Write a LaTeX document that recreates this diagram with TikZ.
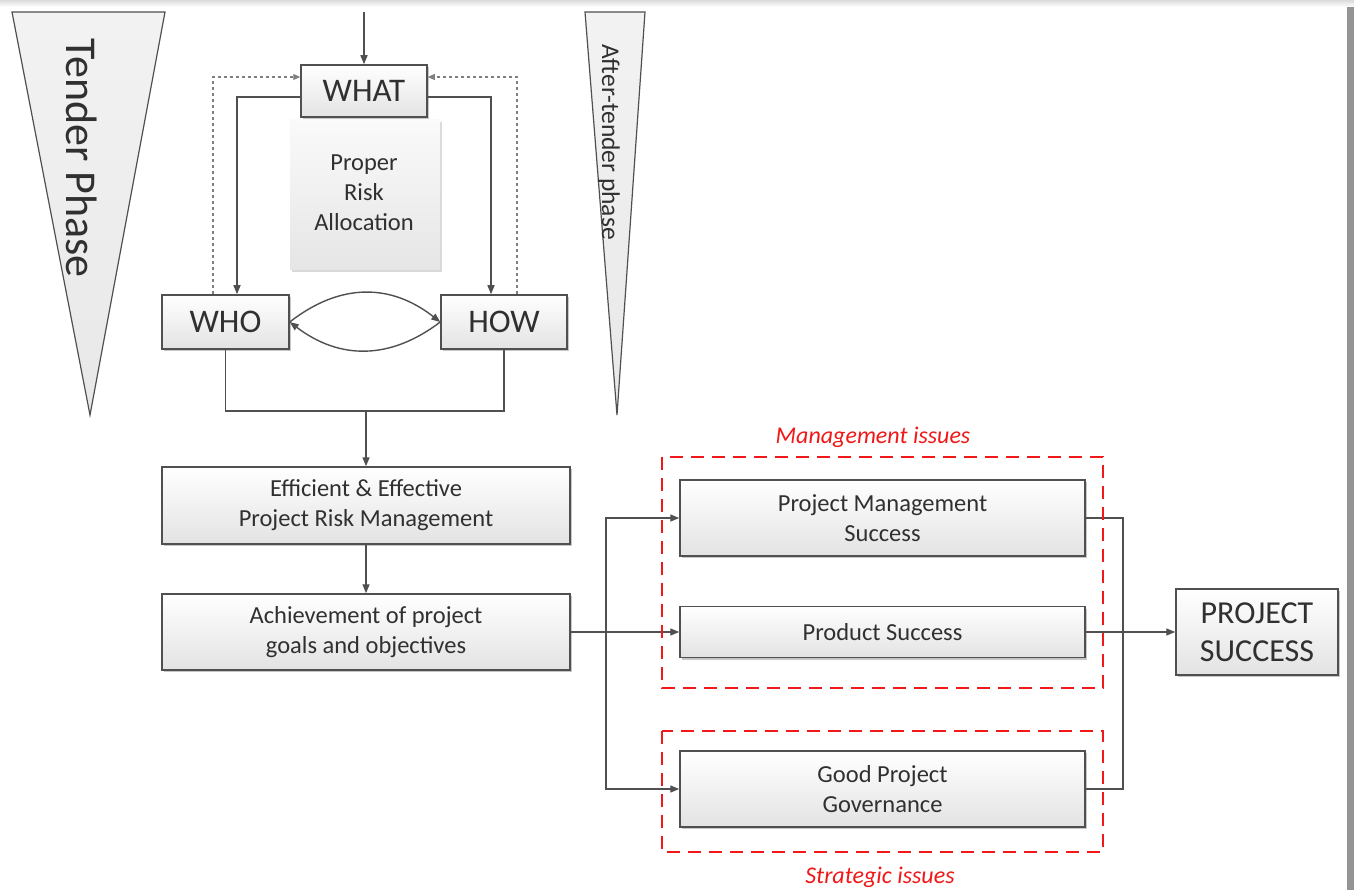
\documentclass[tikz,border=0pt]{standalone}
\usepackage{fontspec}
\setmainfont{Carlito}
\usetikzlibrary{arrows.meta,shadows,calc}
\definecolor{edge}{HTML}{505050}
\definecolor{txt}{HTML}{303030}
\definecolor{issue}{HTML}{F01818}
\begin{document}
\begin{tikzpicture}[x=1pt,y=-1pt,
  stepbox/.style={draw=edge, line width=1.5pt, top color=white, bottom color=black!11,
    text=txt, align=center, inner sep=0pt,
    drop shadow={shadow xshift=2pt,shadow yshift=-2pt,opacity=0.22,fill=black}},
  wire/.style={draw=edge, line width=1.4pt},
  arr/.style={wire, -{Stealth[length=9pt,width=7pt,inset=0pt]}},
  dasharr/.style={draw=black!50, line width=1.1pt, dash pattern=on 3pt off 3pt,
    -{Stealth[length=7pt,width=6pt,inset=0pt]}},
  issuebox/.style={draw=issue, line width=1.8pt, dash pattern=on 13pt off 8pt},
  issuelabel/.style={text=issue, font=\fontsize{24}{28}\selectfont\itshape},
  phase/.style={draw=edge, line width=1.2pt, top color=black!5, bottom color=black!9},
  big/.style={font=\fontsize{33}{38}\selectfont},
  mid/.style={font=\fontsize{24.5}{30}\selectfont},
]
\useasboundingbox (0,0) rectangle (1354,890);
\fill[white] (0,0) rectangle (1354,890);
% page edge
\fill[top color=black!14, bottom color=white] (0,0) rectangle (1354,7);
\fill[black!42] (1347,7) rectangle (1354,890);

% phase wedges
\draw[phase] (12,12) -- (165,12) -- (90,415) -- cycle;
\node[rotate=-90, text=txt, font=\fontsize{44}{48}\selectfont] (tender) at (82,158) {Tender Phase};
\draw[phase] (585,12) -- (645,12) -- (617,415) -- cycle;
\node[rotate=-90, text=txt, font=\fontsize{25.5}{28}\selectfont] (after) at (609,142) {After-tender phase};

% risk allocation core
\node[top color=black!2, bottom color=black!10, inner sep=0pt,
      minimum width=150pt, minimum height=150pt,
      drop shadow={shadow xshift=2pt,shadow yshift=-2pt,opacity=0.15,fill=black}] (alloc) at (365,195) {};
\node[text=txt, align=center, mid] (alloctext) at (364,193) {Proper\\Risk\\Allocation};

\node[stepbox, big, minimum width=126pt, minimum height=52pt] (what) at (364,91) {WHAT};
\node[stepbox, big, minimum width=127pt, minimum height=54pt] (who) at (225.5,322) {WHO};
\node[stepbox, big, minimum width=126pt, minimum height=54pt] (how) at (504,322) {HOW};

\coordinate (entry) at (364,12);
\draw[arr] (entry) -- (what.north);

\draw[arr] ([yshift=-6pt]what.west) -| ([xshift=11.5pt]who.north);
\draw[arr] ([yshift=-6pt]what.east) -| ([xshift=-13pt]how.north);
\draw[dasharr] ([xshift=-12.5pt]who.north) |- ([yshift=14pt]what.west);
\draw[dasharr] ([xshift=13pt]how.north) |- ([yshift=14pt]what.east);

\draw[arr] (who.east) .. controls +(50,-39) and +(-50,-39) .. (how.west);
\draw[arr] (how.west) .. controls +(-50,38) and +(50,38) .. (who.east);

% risk management chain
\node[stepbox, mid, minimum width=408pt, minimum height=77pt] (eff) at (366,505.5)
  {Efficient \& Effective\\Project Risk Management};
\node[stepbox, mid, minimum width=408pt, minimum height=76pt] (ach) at (366,632)
  {Achievement of project\\goals and objectives};

\coordinate (join) at (366,411);
\draw[wire] (who.south) -- (who.south |- join) -- (how.south |- join) -- (how.south);
\draw[arr] (join) -- (eff.north);
\draw[arr] (eff.south) -- (ach.north);

% success dimensions
\node[stepbox, mid, minimum width=405pt, minimum height=76pt] (pms) at (882.5,518)
  {Project Management\\Success};
\node[stepbox, mid, minimum width=405pt, minimum height=51pt] (prod) at (882.5,632)
  {Product Success};
\node[stepbox, big, font=\fontsize{32}{38}\selectfont, minimum width=162pt, minimum height=86pt] (ps) at (1257,632)
  {PROJECT\\SUCCESS};
\node[stepbox, mid, minimum width=405pt, minimum height=76pt] (gov) at (882.5,789)
  {Good Project\\Governance};

\coordinate (branch) at (606,632);
\coordinate (merge) at (1123,632);
\draw[arr] (ach.east) -- (prod.west);
\draw[arr] (branch) |- (pms.west);
\draw[arr] (branch) |- (gov.west);
\draw[wire] (pms.east) -| (merge) |- (gov.east);
\draw[arr] (prod.east) -- (ps.west);

% issue groups
\draw[issuebox] (662,457) rectangle (1103,688);
\draw[issuebox] (662,731) rectangle (1103,852);
\node[issuelabel] (mgmt) at (873,437) {Management issues};
\node[issuelabel] (strat) at (880,877) {Strategic issues};
\end{tikzpicture}
\end{document}
